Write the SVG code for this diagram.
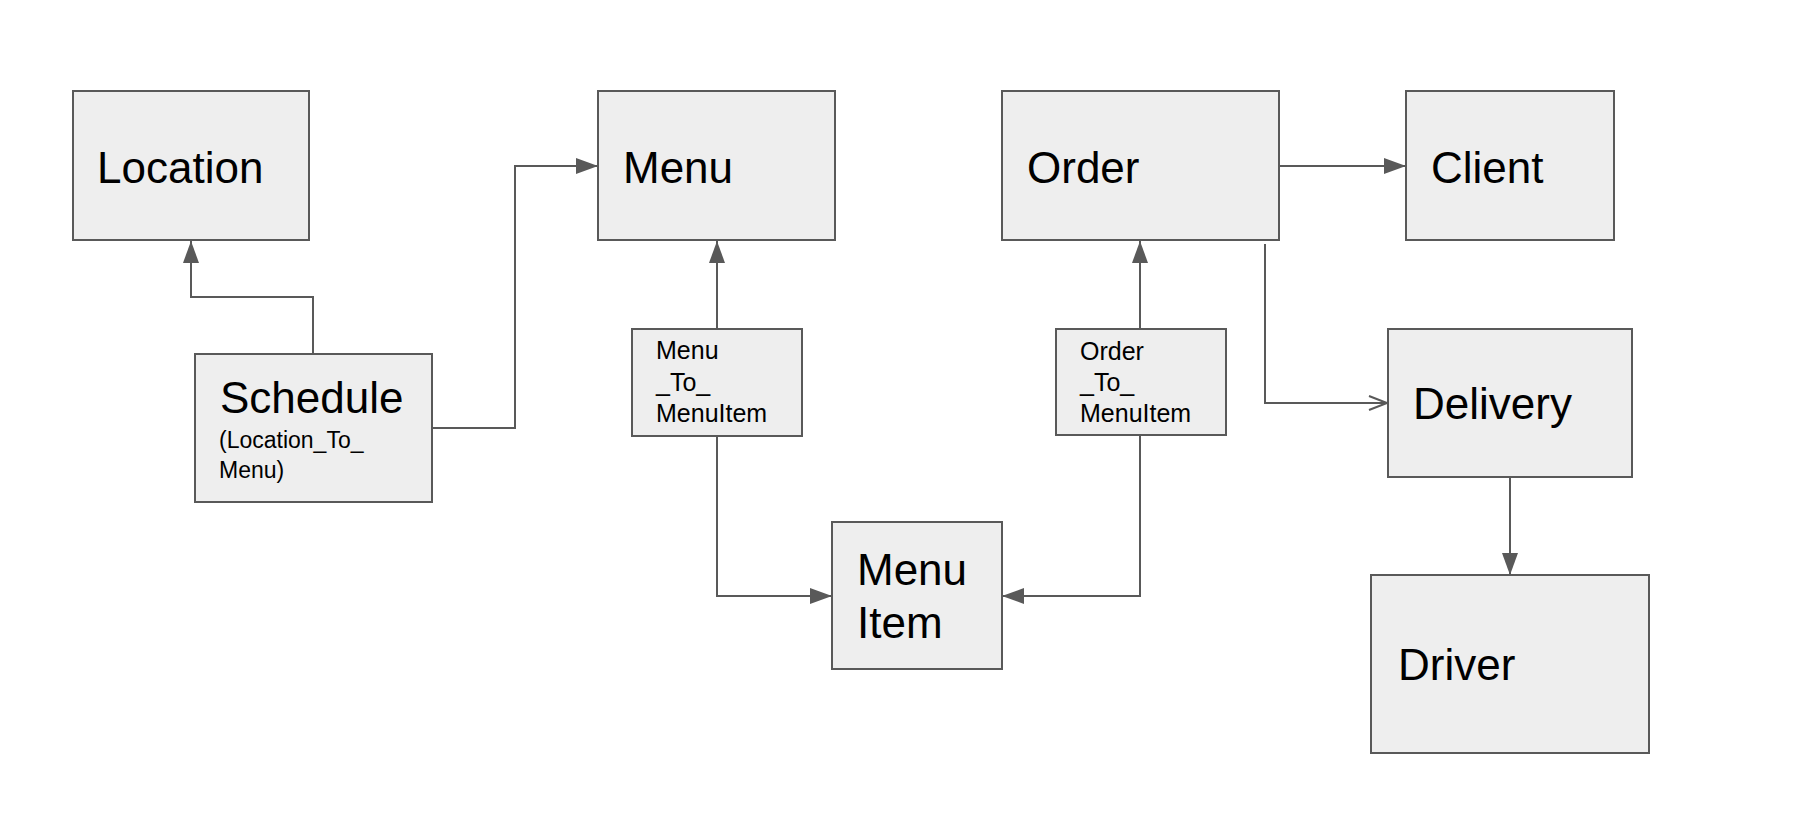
<svg xmlns="http://www.w3.org/2000/svg" width="1818" height="826" viewBox="0 0 1818 826">
<style>
  .box { fill: #eeeeee; stroke: #595959; stroke-width: 2; }
  .big { font-family: "Liberation Sans", Arial, sans-serif; font-size: 44px; fill: #000; }
  .small { font-family: "Liberation Sans", Arial, sans-serif; font-size: 25px; fill: #000; }
  .sub { font-family: "Liberation Sans", Arial, sans-serif; font-size: 23px; fill: #000; }
  .conn { fill: none; stroke: #595959; stroke-width: 2; }
</style>
<defs>
  <marker id="arrow" markerUnits="userSpaceOnUse" markerWidth="22" markerHeight="16" refX="22" refY="8" orient="auto">
    <path d="M0,0 L22,8 L0,16 z" fill="#595959"/>
  </marker>
  <marker id="open" markerUnits="userSpaceOnUse" markerWidth="24" markerHeight="18" refX="22" refY="9" orient="auto">
    <path d="M3,2 L21,9 L3,16" fill="none" stroke="#595959" stroke-width="2"/>
  </marker>
</defs>
<rect width="1818" height="826" fill="#ffffff"/>

<g id="connectors">
  <path class="conn" d="M313,354 V297 H191 V241" marker-end="url(#arrow)"/>
  <path class="conn" d="M432,428 H515 V166 H598" marker-end="url(#arrow)"/>
  <path class="conn" d="M717,329 V241" marker-end="url(#arrow)"/>
  <path class="conn" d="M717,436 V596 H832" marker-end="url(#arrow)"/>
  <path class="conn" d="M1140,435 V596 H1002" marker-end="url(#arrow)"/>
  <path class="conn" d="M1140,329 V241" marker-end="url(#arrow)"/>
  <path class="conn" d="M1279,166 H1406" marker-end="url(#arrow)"/>
  <path class="conn" d="M1265,244 V403 H1388" marker-end="url(#open)"/>
  <path class="conn" d="M1510,477 V575" marker-end="url(#arrow)"/>
</g>

<g id="location">
  <rect class="box" x="73" y="91" width="236" height="149"/>
  <text class="big" x="97" y="183">Location</text>
</g>
<g id="menu">
  <rect class="box" x="598" y="91" width="237" height="149"/>
  <text class="big" x="623" y="183">Menu</text>
</g>
<g id="order">
  <rect class="box" x="1002" y="91" width="277" height="149"/>
  <text class="big" x="1027" y="183">Order</text>
</g>
<g id="client">
  <rect class="box" x="1406" y="91" width="208" height="149"/>
  <text class="big" x="1431" y="183">Client</text>
</g>
<g id="schedule">
  <rect class="box" x="195" y="354" width="237" height="148"/>
  <text class="big" x="220" y="413">Schedule</text>
  <text class="sub" x="219" y="448">(Location_To_</text>
  <text class="sub" x="219" y="478">Menu)</text>
</g>
<g id="menu_to_menuitem">
  <rect class="box" x="632" y="329" width="170" height="107"/>
  <text class="small" x="656" y="359">Menu</text>
  <text class="small" x="656" y="391">_To_</text>
  <text class="small" x="656" y="422">MenuItem</text>
</g>
<g id="order_to_menuitem">
  <rect class="box" x="1056" y="329" width="170" height="106"/>
  <text class="small" x="1080" y="360">Order</text>
  <text class="small" x="1080" y="391">_To_</text>
  <text class="small" x="1080" y="422">MenuItem</text>
</g>
<g id="delivery">
  <rect class="box" x="1388" y="329" width="244" height="148"/>
  <text class="big" x="1413" y="419">Delivery</text>
</g>
<g id="menuitem">
  <rect class="box" x="832" y="522" width="170" height="147"/>
  <text class="big" x="857" y="585">Menu</text>
  <text class="big" x="857" y="638">Item</text>
</g>
<g id="driver">
  <rect class="box" x="1371" y="575" width="278" height="178"/>
  <text class="big" x="1398" y="680">Driver</text>
</g>
</svg>
